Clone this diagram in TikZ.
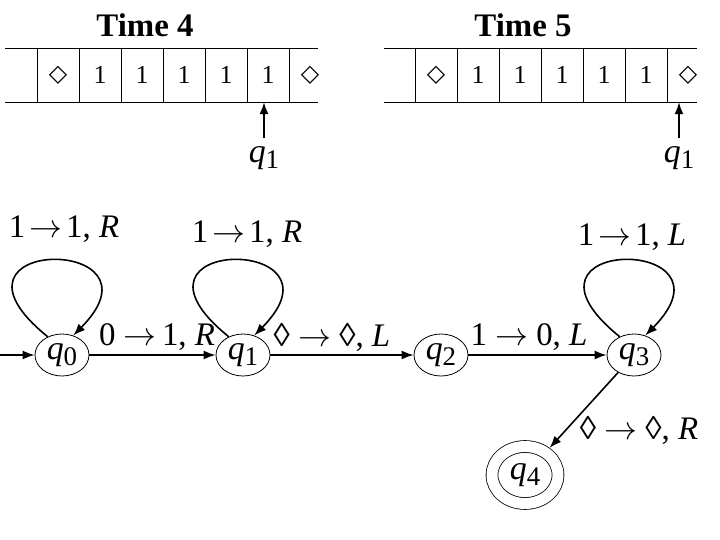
\RequirePackage{fix-cm}
\documentclass[tikz,border=0pt]{standalone}
\usepackage{fontspec}
\setmainfont{Liberation Serif}
\newfontfamily\dejavu{DejaVu Sans}
\usetikzlibrary{arrows.meta,shapes.geometric}
\newcommand{\qsub}[1]{\textit{q}\raisebox{-6bp}{\fontsize{27}{27}\selectfont #1}}
\newcommand{\goes}{$\rightarrow$}

\begin{document}
\begin{tikzpicture}[x=1bp,y=1bp,>={Latex[length=12bp,width=9bp]},
	title/.style={font=\bfseries\fontsize{33}{33}\selectfont, inner sep=0pt},
	tape/.style={line width=0.8bp},
	cell/.style={minimum width=42bp, minimum height=54bp, inner sep=0pt, font=\fontsize{26}{26}\selectfont},
	blank/.style={cell, font=\dejavu\fontsize{24}{24}\selectfont},
	head/.style={inner xsep=1bp, inner ysep=9bp, text height=15bp, text depth=12bp, font=\fontsize{34}{34}\selectfont},
	state/.style={ellipse, draw, line width=0.8bp, minimum width=54bp, minimum height=42bp, inner sep=0pt, font=\fontsize{34}{34}\selectfont},
	accept/.style={state, double, double distance=11bp, minimum width=66bp, minimum height=57bp, outer sep=6.3bp},
	lab/.style={inner sep=0pt, font=\fontsize{33}{33}\selectfont},
	edge/.style={line width=1.6bp}]
	\useasboundingbox (0,0) rectangle (720,-540);

	% tape at time 4
	\node (t4) at (145,-25)	[title]	{Time 4};
	\draw[tape] (5,-48) -- (318,-48) (5,-102) -- (318,-102);
	\foreach \x in {37,79,...,289} \draw[tape] (\x,-48) -- (\x,-102);
	\node (c41) at ( 58,-75)	[blank]	{◇};
	\node (c42) at (100,-75)	[cell]	{1};
	\node (c43) at (142,-75)	[cell]	{1};
	\node (c44) at (184,-75)	[cell]	{1};
	\node (c45) at (226,-75)	[cell]	{1};
	\node (c46) at (268,-75)	[cell]	{1};
	\node (c47) at (310,-75)	[blank]	{◇};
	\node (h4) at (264,-161)	[head]	{\qsub{1}};
	\draw[edge,->] (h4.north) -- (h4.north |- c46.south);

	% tape at time 5
	\node (t5) at (523,-25)	[title]	{Time 5};
	\draw[tape] (384,-48) -- (697,-48) (384,-102) -- (697,-102);
	\foreach \x in {415,457,...,667} \draw[tape] (\x,-48) -- (\x,-102);
	\node (c51) at (436,-75)	[blank]	{◇};
	\node (c52) at (478,-75)	[cell]	{1};
	\node (c53) at (520,-75)	[cell]	{1};
	\node (c54) at (562,-75)	[cell]	{1};
	\node (c55) at (604,-75)	[cell]	{1};
	\node (c56) at (646,-75)	[cell]	{1};
	\node (c57) at (688,-75)	[blank]	{◇};
	\node (h5) at (679,-161)	[head]	{\qsub{1}};
	\draw[edge,->] (h5.north) -- (h5.north |- c57.south);

	% machine
	\coordinate (in) at (0,-355);
	\node (q0) at ( 62,-355)	[state]	{\qsub{0}};
	\node (q1) at (243,-355)	[state]	{\qsub{1}};
	\node (q2) at (441,-355)	[state]	{\qsub{2}};
	\node (q3) at (634,-355)	[state]	{\qsub{3}};
	\node (q4) at (525,-475)	[accept]	{\qsub{4}};

	\draw[edge,->] (in) -- (q0);
	\draw[edge,->] (q0) -- (q1);
	\draw[edge,->] (q1) -- (q2);
	\draw[edge,->] (q2) -- (q3);
	\draw[edge,->] (q3) -- (q4);
	\draw[edge,->] (q0.128) .. controls +(-125,101) and +(100,101) .. (q0.60);
	\draw[edge,->] (q1.128) .. controls +(-125,101) and +(100,101) .. (q1.60);
	\draw[edge,->] (q3.128) .. controls +(-125,101) and +(100,101) .. (q3.60);

	\node (lp0) at ( 64,-229)	[lab]	{1\hspace{4bp}\goes\hspace{4bp}1, \textit{R}};
	\node (lp1) at (247,-234)	[lab]	{1\hspace{4bp}\goes\hspace{4bp}1, \textit{R}};
	\node (l01) at (157,-337)	[lab]	{0 \goes\,1, \textit{R}};
	\node (l12) at (332,-337)	[lab]	{◊ \goes\ ◊, \textit{L}};
	\node (l23) at (529,-337)	[lab]	{1 \goes\ 0, \textit{L}};
	\node (lp3) at (632,-237)	[lab]	{1\hspace{4bp}\goes\hspace{4bp}1, \textit{L}};
	\node (l34) at (639,-430)	[lab]	{◊ \goes\ ◊, \textit{R}};
\end{tikzpicture}
\end{document}
